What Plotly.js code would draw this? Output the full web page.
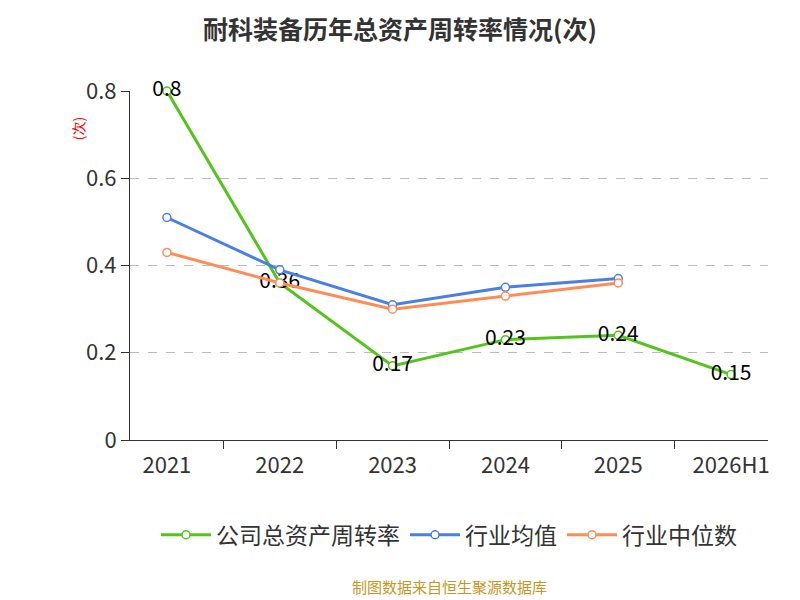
<!DOCTYPE html>
<html><head><meta charset="utf-8">
<script src="https://cdn.plot.ly/plotly-3.0.1.min.js"></script>
<style>body{margin:0}</style></head>
<body><div id="c" style="width:800px;height:600px"></div>
<script>
const categories=['2021','2022','2023','2024','2025','2026H1'];
const company=[0.8,0.36,0.17,0.23,0.24,0.15];
const industryAvg=[0.51,0.39,0.31,0.35,0.37,null];
const industryMedian=[0.43,0.36,0.30,0.33,0.36,null];
const labels=company.map(v=>String(v));
const font="'Noto Sans CJK SC', 'Noto Sans', sans-serif";
const traces=[
{x:categories,y:company,name:'公司总资产周转率',mode:'lines+markers+text',cliponaxis:false,text:labels,textposition:'middle center',textfont:{size:21,color:'#000'},line:{color:'#52c41a',width:3},marker:{size:8,color:'#fff',line:{color:'#52c41a',width:1.5}}},
{x:categories,y:industryAvg,name:'行业均值',mode:'lines+markers',line:{color:'#4a7fe3',width:3},marker:{size:8,color:'#fff',line:{color:'#4a7fe3',width:1.5}}},
{x:categories,y:industryMedian,name:'行业中位数',mode:'lines+markers',line:{color:'#ff8c55',width:3},marker:{size:8,color:'#fff',line:{color:'#ff8c55',width:1.5}}}
];
const layout={
width:800,height:600,paper_bgcolor:'#fff',plot_bgcolor:'#fff',font:{family:font,color:'#333'},
title:{text:'<b>耐科装备历年总资产周转率情况(次)</b>',x:0.5,y:0.965,font:{size:25,color:'#333'}},
margin:{l:130,r:32,t:91,b:160},
xaxis:{type:'category',showgrid:false,showline:true,linecolor:'#333',ticks:'outside',tickson:'boundaries',ticklen:8,tickcolor:'#333',tickfont:{size:22,color:'#333'},ticklabelstandoff:6},
yaxis:{range:[0,0.8],tickvals:[0,0.2,0.4,0.6,0.8],ticktext:['0','0.2','0.4','0.6','0.8'],showline:true,linecolor:'#333',ticks:'outside',ticklen:8,tickcolor:'#333',gridcolor:'#bbb',griddash:'dash',zeroline:false,tickfont:{size:22,color:'#333'}},
legend:{orientation:'h',x:0.5,xanchor:'center',y:-0.21,yanchor:'top',itemwidth:50,font:{size:23,color:'#333'}},
showlegend:true,
annotations:[
{text:'(次)',xref:'paper',yref:'paper',x:-0.1,y:0.93,showarrow:false,textangle:-90,font:{size:14,color:'red'}},
{text:'制图数据来自恒生聚源数据库',xref:'paper',yref:'paper',x:0.5,y:-0.455,showarrow:false,font:{size:15,color:'#c8961e'}}
]};
Plotly.newPlot('c',traces,layout,{displayModeBar:false});
</script></body></html>
